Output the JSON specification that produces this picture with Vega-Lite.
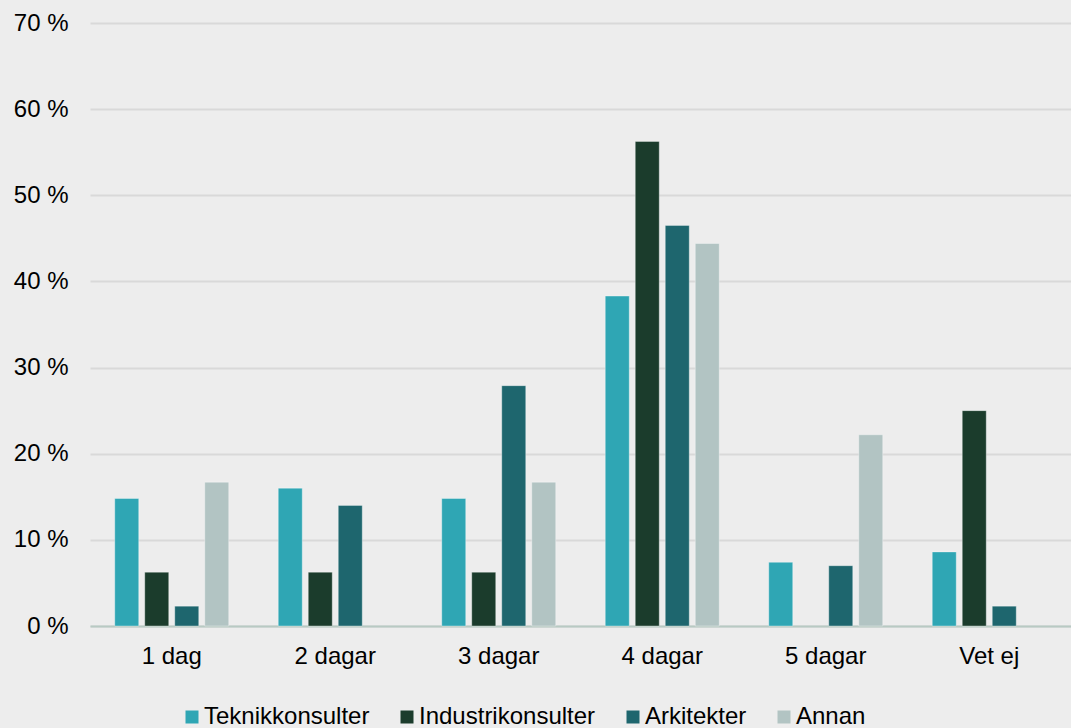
{
  "$schema": "https://vega.github.io/schema/vega-lite/v6.json",
  "width": 981,
  "height": 603,
  "autosize": {"type": "none"},
  "padding": {"left": 90, "top": 23, "right": 0, "bottom": 102},
  "background": "#ededed",
  "config": {
    "view": {"stroke": null},
    "font": "Liberation Sans",
    "axis": {"labelFont": "Liberation Sans", "labelColor": "#000000", "labelFontSize": 24},
    "legend": {"labelFont": "Liberation Sans", "labelColor": "#000000", "labelFontSize": 24}
  },
  "data": {
    "values": [
      {"cat": "1 dag", "series": "Teknikkonsulter", "value": 14.8},
      {"cat": "1 dag", "series": "Industrikonsulter", "value": 6.25},
      {"cat": "1 dag", "series": "Arkitekter", "value": 2.3},
      {"cat": "1 dag", "series": "Annan", "value": 16.7},
      {"cat": "2 dagar", "series": "Teknikkonsulter", "value": 16.0},
      {"cat": "2 dagar", "series": "Industrikonsulter", "value": 6.25},
      {"cat": "2 dagar", "series": "Arkitekter", "value": 14.0},
      {"cat": "3 dagar", "series": "Teknikkonsulter", "value": 14.8},
      {"cat": "3 dagar", "series": "Industrikonsulter", "value": 6.25},
      {"cat": "3 dagar", "series": "Arkitekter", "value": 27.9},
      {"cat": "3 dagar", "series": "Annan", "value": 16.7},
      {"cat": "4 dagar", "series": "Teknikkonsulter", "value": 38.3},
      {"cat": "4 dagar", "series": "Industrikonsulter", "value": 56.25},
      {"cat": "4 dagar", "series": "Arkitekter", "value": 46.5},
      {"cat": "4 dagar", "series": "Annan", "value": 44.4},
      {"cat": "5 dagar", "series": "Teknikkonsulter", "value": 7.4},
      {"cat": "5 dagar", "series": "Arkitekter", "value": 7.0},
      {"cat": "5 dagar", "series": "Annan", "value": 22.2},
      {"cat": "Vet ej", "series": "Teknikkonsulter", "value": 8.6},
      {"cat": "Vet ej", "series": "Industrikonsulter", "value": 25.0},
      {"cat": "Vet ej", "series": "Arkitekter", "value": 2.3}
    ]
  },
  "mark": {"type": "bar", "stroke": "#ffffff", "strokeOpacity": 0.35, "strokeWidth": 1},
  "encoding": {
    "x": {
      "field": "cat",
      "type": "nominal",
      "sort": ["1 dag", "2 dagar", "3 dagar", "4 dagar", "5 dagar", "Vet ej"],
      "scale": {"paddingInner": 0.266, "paddingOuter": 0.133},
      "axis": {
        "title": null,
        "labelAngle": 0,
        "ticks": false,
        "tickSize": 0,
        "labelPadding": 18,
        "domainColor": "#b8cac3",
        "domainWidth": 2,
        "grid": false
      }
    },
    "xOffset": {
      "field": "series",
      "type": "nominal",
      "sort": ["Teknikkonsulter", "Industrikonsulter", "Arkitekter", "Annan"],
      "scale": {"domain": ["Teknikkonsulter", "Industrikonsulter", "Arkitekter", "Annan"], "paddingInner": 0.2, "paddingOuter": 0.1}
    },
    "y": {
      "field": "value",
      "type": "quantitative",
      "scale": {"domain": [0, 70], "nice": false},
      "axis": {
        "title": null,
        "values": [0, 10, 20, 30, 40, 50, 60, 70],
        "labelExpr": "datum.value + ' %'",
        "domain": false,
        "ticks": false,
        "tickSize": 0,
        "labelPadding": 22,
        "gridColor": "#d9d9d9",
        "gridWidth": 2
      }
    },
    "color": {
      "field": "series",
      "type": "nominal",
      "scale": {
        "domain": ["Teknikkonsulter", "Industrikonsulter", "Arkitekter", "Annan"],
        "range": ["#2fa6b4", "#1b3c2c", "#1e666e", "#b2c4c3"]
      },
      "legend": {
        "title": null,
        "orient": "none",
        "direction": "horizontal",
        "legendX": 90,
        "legendY": 682,
        "symbolType": "square",
        "symbolSize": 169,
        "symbolStrokeWidth": 0,
        "labelOffset": 0,
        "labelLimit": 0,
        "columnPadding": 25
      }
    }
  }
}
